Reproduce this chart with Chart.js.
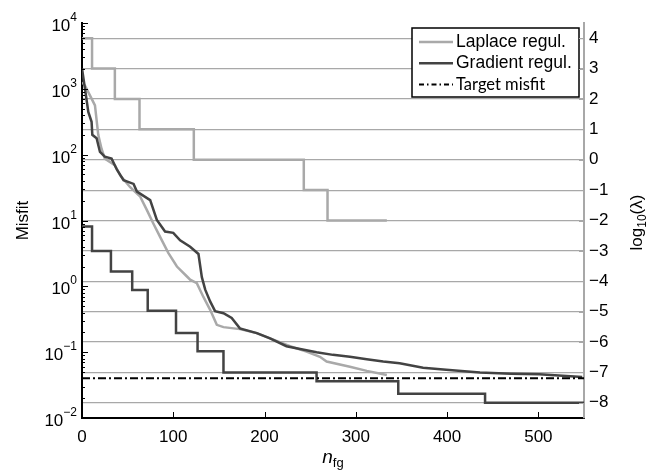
<!DOCTYPE html>
<html>
<head>
<meta charset="utf-8">
<script src="https://cdn.jsdelivr.net/npm/chart.js@4"></script>
<style>
html, body { margin: 0; padding: 0; background: #fff; }
</style>
</head>
<body>
<canvas id="misfitChart" width="663" height="471"></canvas>
<script>
// Laplace regul. misfit vs number of function/gradient evaluations
const lapN      = [0, 3.3, 10.5, 14.2, 17.8, 21.4, 25, 36, 42, 52.8, 63.8, 71, 78, 85.7, 94.7, 104, 115, 118.5, 125.8, 133, 140.4, 147.7, 155, 173, 191.5, 209.6, 228, 246, 260.7, 268, 293.5, 312, 334];
const lapMisfit = [1260, 1120, 710, 560, 200, 123, 87, 69, 48, 32, 23, 14.5, 9.1, 5.6, 3.2, 2.0, 1.41, 1.26, 1.12, 0.69, 0.44, 0.26, 0.24, 0.224, 0.195, 0.155, 0.123, 0.102, 0.085, 0.072, 0.060, 0.052, 0.045];

// Gradient regul. misfit
const gradN      = [0, 3.3, 6.9, 10.5, 11.3, 16, 19.7, 25, 32.4, 38.3, 45.5, 56.5, 60.2, 74.7, 82, 91, 100, 107.5, 118.5, 127.6, 131.3, 135, 140.4, 145.8, 155, 164, 173, 191.5, 206, 224, 239, 257, 275, 293.5, 312, 330, 348, 373.7, 399, 436, 470, 501, 548];
const gradMisfit = [2040, 1000, 447, 316, 200, 178, 110, 93, 87, 59, 41, 36, 27.5, 20.4, 10.2, 6.8, 6.5, 5.0, 4.0, 3.1, 1.38, 0.89, 0.59, 0.42, 0.39, 0.33, 0.23, 0.195, 0.162, 0.123, 0.112, 0.100, 0.091, 0.085, 0.078, 0.072, 0.068, 0.058, 0.054, 0.049, 0.047, 0.046, 0.042];

// log10(lambda) steps (value holds from n until the next n)
const lapLambdaN  = [0, 11, 36, 63, 122.5, 243, 269, 334];
const lapLambda   = [4, 3, 2, 1, 0, -1, -2, -2];
const gradLambdaN = [0, 11, 31.7, 55, 72, 103, 126.6, 155, 257, 346.5, 441.6, 550];
const gradLambda  = [-2.2, -3.0, -3.68, -4.29, -4.97, -5.70, -6.30, -7.0, -7.29, -7.70, -8.0, -8.0];

const targetMisfit = 0.04;
const targetN = [0, 550];

const misfitExps = [-2, -1, 0, 1, 2, 3, 4];
const lambdaTicks = [-8, -7, -6, -5, -4, -3, -2, -1, 0, 1, 2, 3, 4];
const nTicks = [0, 100, 200, 300, 400, 500];
const legendLabels = ['Laplace regul.', 'Gradient regul.', 'Target misfit'];

const FONT = "Arial, 'Liberation Sans', Helvetica, sans-serif";
const LIGHT = '#a9a9a9';
const DARK = '#434343';
const GRID = '#a8a8a8';

const toXY = (xs, ys) => xs.map((x, i) => ({ x: x, y: ys[i] }));

const decor = {
    id: 'decor',
    afterDatasetsDraw(chart) {
        const ctx = chart.ctx;
        const area = chart.chartArea;
        // legend box
        const w = 167, h = 69;
        const bx = area.right - 5 - w, by = area.top + 5;
        ctx.save();
        ctx.fillStyle = '#fff';
        ctx.fillRect(bx, by, w, h);
        ctx.strokeStyle = '#000';
        ctx.lineWidth = 1.5;
        ctx.strokeRect(bx, by, w, h);
        const items = [
            { color: LIGHT, dash: [], width: 2.5, font: '17.5px ' + FONT },
            { color: DARK, dash: [], width: 2.5, font: '17.5px ' + FONT },
            { color: '#000', dash: [5, 3, 1.5, 3], width: 2, font: '16.5px Lato, ' + FONT }
        ];
        items.forEach((it, i) => {
            const yy = by + 14 + i * 21.2;
            ctx.beginPath();
            ctx.setLineDash(it.dash);
            ctx.strokeStyle = it.color;
            ctx.lineWidth = it.width;
            ctx.moveTo(bx + 7, yy);
            ctx.lineTo(bx + 41, yy);
            ctx.stroke();
            ctx.setLineDash([]);
            ctx.fillStyle = '#000';
            ctx.font = it.font;
            ctx.textBaseline = 'middle';
            ctx.textAlign = 'left';
            ctx.fillText(legendLabels[i], bx + 44, yy);
        });
        ctx.restore();
    },
    afterDraw(chart) {
        const ctx = chart.ctx;
        const area = chart.chartArea;
        const ys = chart.scales.y, xs = chart.scales.x, y2 = chart.scales.y2;
        ctx.save();
        // inward ticks on the misfit axis
        ctx.strokeStyle = '#000';
        ctx.lineWidth = 1;
        misfitExps.forEach(e => {
            for (let m = 1; m <= 9; m++) {
                const v = m * Math.pow(10, e);
                if (v > ys.max * 1.0001) continue;
                const py = Math.round(ys.getPixelForValue(v)) + 0.5;
                ctx.beginPath();
                ctx.moveTo(area.left, py);
                ctx.lineTo(area.left + (m === 1 ? 6 : 3), py);
                ctx.stroke();
            }
        });
        // inward ticks on x axis
        nTicks.forEach(v => {
            const px = Math.round(xs.getPixelForValue(v)) + 0.5;
            ctx.beginPath();
            ctx.moveTo(px, area.bottom);
            ctx.lineTo(px, area.bottom - 6);
            ctx.stroke();
        });
        // inward ticks on lambda axis
        ctx.strokeStyle = GRID;
        lambdaTicks.forEach(v => {
            const py = Math.round(y2.getPixelForValue(v)) + 0.5;
            ctx.beginPath();
            ctx.moveTo(area.right, py);
            ctx.lineTo(area.right - 5, py);
            ctx.stroke();
        });
        // misfit labels 10^e
        ctx.fillStyle = '#000';
        ctx.textBaseline = 'alphabetic';
        ctx.textAlign = 'left';
        misfitExps.forEach(e => {
            const py = ys.getPixelForValue(Math.pow(10, e));
            const sup = e < 0 ? '\u2212' + Math.abs(e) : String(e);
            ctx.font = '12px ' + FONT;
            const sw = ctx.measureText(sup).width;
            ctx.font = '17px ' + FONT;
            const bw = ctx.measureText('10').width;
            const right = area.left - 5;
            ctx.fillText('10', right - sw - bw, py + 8);
            ctx.font = '12px ' + FONT;
            ctx.fillText(sup, right - sw, py - 2);
        });
        // left title
        ctx.font = '17px ' + FONT;
        ctx.textAlign = 'center';
        ctx.textBaseline = 'middle';
        ctx.save();
        ctx.translate(23, (area.top + area.bottom) / 2);
        ctx.rotate(-Math.PI / 2);
        ctx.fillText('Misfit', 0, 0);
        ctx.restore();
        // right title log10(λ), reading upward
        ctx.save();
        ctx.translate(636, (area.top + area.bottom) / 2 + 2);
        ctx.rotate(-Math.PI / 2);
        ctx.textAlign = 'left';
        ctx.textBaseline = 'alphabetic';
        ctx.font = '17px ' + FONT;
        const w1 = ctx.measureText('log').width;
        const w3 = ctx.measureText('(\u03bb)').width;
        ctx.font = '12px ' + FONT;
        const w2 = ctx.measureText('10').width;
        const sx = -(w1 + w2 + w3) / 2;
        ctx.font = '17px ' + FONT;
        ctx.fillText('log', sx, 6);
        ctx.font = '12px ' + FONT;
        ctx.fillText('10', sx + w1, 10);
        ctx.font = '17px ' + FONT;
        ctx.fillText('(\u03bb)', sx + w1 + w2, 6);
        ctx.restore();
        // x title n_fg
        ctx.textAlign = 'left';
        ctx.textBaseline = 'alphabetic';
        ctx.font = 'italic 19px ' + FONT;
        const nw = ctx.measureText('n').width;
        ctx.font = '13px ' + FONT;
        const fw = ctx.measureText('fg').width;
        const cx = (area.left + area.right) / 2 - (nw + fw) / 2;
        ctx.font = 'italic 19px ' + FONT;
        ctx.fillText('n', cx, 463);
        ctx.font = '13px ' + FONT;
        ctx.fillText('fg', cx + nw, 467);
        ctx.restore();
    }
};

const ctx = document.getElementById('misfitChart').getContext('2d');

const misfitChart = new Chart(ctx, {
    type: 'line',
    data: {
        datasets: [
            {
                label: 'Target misfit',
                data: toXY(targetN, targetN.map(() => targetMisfit)),
                borderColor: '#000',
                borderWidth: 2,
                borderDash: [8, 3, 2, 3],
                yAxisID: 'y'
            },
            {
                label: 'Gradient regul.',
                data: toXY(gradN, gradMisfit),
                borderColor: DARK,
                borderWidth: 2.5,
                yAxisID: 'y'
            },
            {
                label: 'Laplace regul.',
                data: toXY(lapN, lapMisfit),
                borderColor: LIGHT,
                borderWidth: 2.5,
                yAxisID: 'y'
            },
            {
                label: 'Gradient lambda',
                data: toXY(gradLambdaN, gradLambda),
                borderColor: DARK,
                borderWidth: 2.5,
                stepped: 'before',
                yAxisID: 'y2'
            },
            {
                label: 'Laplace lambda',
                data: toXY(lapLambdaN, lapLambda),
                borderColor: LIGHT,
                borderWidth: 2.5,
                stepped: 'before',
                yAxisID: 'y2'
            }
        ]
    },
    options: {
        responsive: false,
        animation: false,
        layout: { padding: { top: 23, left: 0, right: 0, bottom: 0 } },
        elements: { point: { radius: 0 }, line: { tension: 0, fill: false } },
        plugins: { legend: { display: false }, tooltip: { enabled: false } },
        scales: {
            x: {
                type: 'linear', position: 'bottom', min: 0, max: 550,
                afterBuildTicks: s => { s.ticks = nTicks.map(v => ({ value: v })); },
                ticks: { color: '#000', font: { size: 17, family: FONT }, padding: 9 },
                grid: { display: false, drawTicks: false },
                border: { color: '#000', width: 2 },
                afterFit: s => { s.height = 53; }
            },
            y: {
                type: 'logarithmic', position: 'left', min: 0.01, max: 10000,
                ticks: { display: false },
                grid: { display: false, drawTicks: false },
                border: { color: '#000', width: 2 },
                afterFit: s => { s.width = 82; }
            },
            y2: {
                type: 'linear', position: 'right', min: -8.5, max: 4.5,
                afterBuildTicks: s => { s.ticks = lambdaTicks.map(v => ({ value: v })); },
                ticks: {
                    color: '#000', padding: 5,
                    font: { size: 17, family: FONT },
                    callback: v => v < 0 ? '\u2212' + Math.abs(v) : String(v)
                },
                grid: { color: GRID, lineWidth: 1.2, drawTicks: false },
                border: { color: GRID, width: 2 },
                afterFit: s => { s.width = 79; }
            }
        }
    },
    plugins: [decor]
});
</script>
</body>
</html>
